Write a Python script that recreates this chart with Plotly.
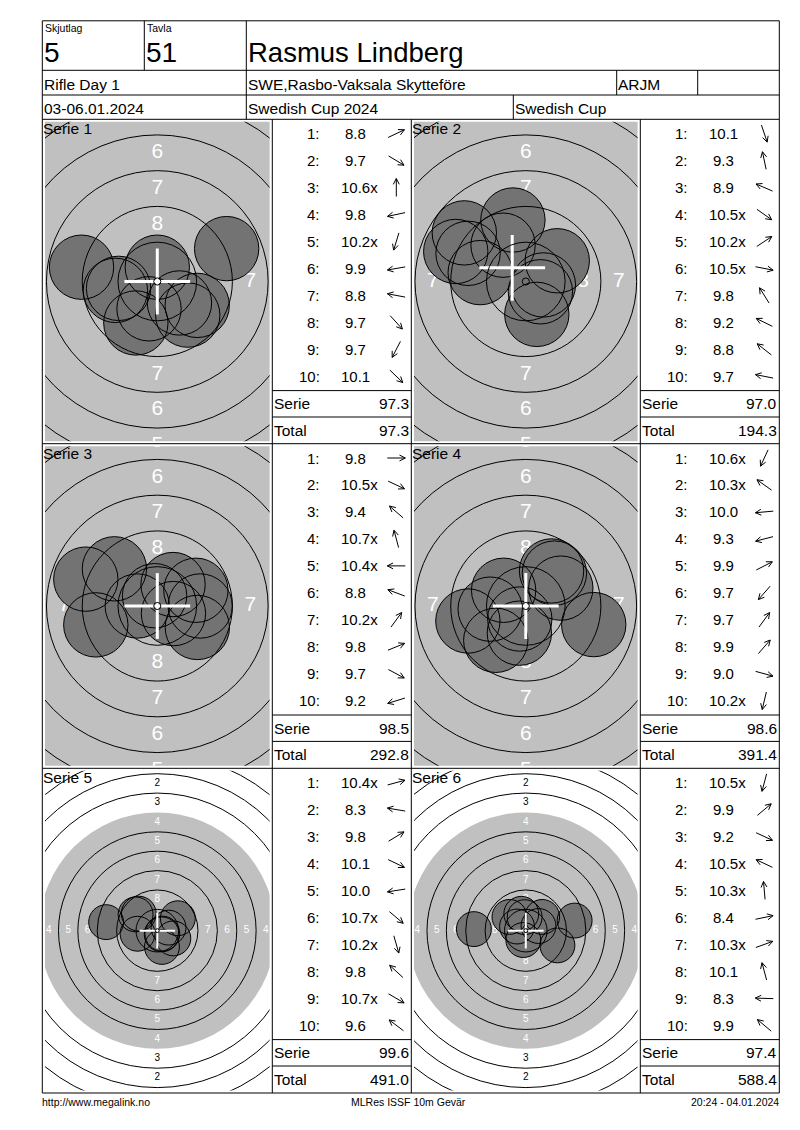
import math
import plotly.graph_objects as go

# header and footer
relay_label, relay = "Skjutlag", "5"
lane_label, lane = "Tavla", "51"
shooter = "Rasmus Lindberg"
event = "Rifle Day 1"
club = "SWE,Rasbo-Vaksala Skytteföre"
shooter_class = "ARJM"
dates = "03-06.01.2024"
competition = "Swedish Cup 2024"
cup = "Swedish Cup"
footer = ["http://www.megalink.no", "MLRes ISSF 10m Gevär", "20:24 - 04.01.2024"]

series = ["Serie 1", "Serie 2", "Serie 3", "Serie 4", "Serie 5", "Serie 6"]

# decimal score of every shot
scores = [
    [8.8, 9.7, 10.6, 9.8, 10.2, 9.9, 8.8, 9.7, 9.7, 10.1],
    [10.1, 9.3, 8.9, 10.5, 10.2, 10.5, 9.8, 9.2, 8.8, 9.7],
    [9.8, 10.5, 9.4, 10.7, 10.4, 8.8, 10.2, 9.8, 9.7, 9.2],
    [10.6, 10.3, 10.0, 9.3, 9.9, 9.7, 9.7, 9.9, 9.0, 10.2],
    [10.4, 8.3, 9.8, 10.1, 10.0, 10.7, 10.2, 9.8, 10.7, 9.6],
    [10.5, 9.9, 9.2, 10.5, 10.3, 8.4, 10.3, 10.1, 8.3, 9.9],
]
# inner ten ("x")
inner_ten = [
    [0, 0, 1, 0, 1, 0, 0, 0, 0, 0],
    [0, 0, 0, 1, 1, 1, 0, 0, 0, 0],
    [0, 1, 0, 1, 1, 0, 1, 0, 0, 0],
    [1, 1, 0, 0, 0, 0, 0, 0, 0, 1],
    [1, 0, 0, 0, 0, 1, 1, 0, 1, 0],
    [1, 0, 0, 1, 1, 0, 1, 0, 0, 0],
]
# shot positions in mm from target centre (x right, y up)
shot_x = [
    [4.85, 2.79, 0.00, -2.93, -0.58, -2.71, -5.3, 2.13, -1.5, 1.55],
    [0.77, -0.9, -4.9, 1.02, 2.2, 1.23, -1.59, -4.04, -4.3, -3.19],
    [3.0, 1.13, -3.0, -0.19, -1.4, -5.0, 1.1, 2.7, 2.8, -4.3],
    [-0.42, -1.55, -2.49, -4.05, 2.45, -2.1, 1.8, 2.0, 4.75, -0.45],
    [1.45, -6.6, 2.65, 2.07, -2.55, 0.57, 0.6, -2.4, 0.65, -2.8],
    [-0.32, 2.11, 4.08, -1.13, -0.15, 6.3, 1.64, -0.58, -6.7, -2.11],
]
shot_y = [
    [2.3, -1.67, 1.00, -0.62, -1.91, -0.48, 1.0, -2.35, -2.9, -1.5],
    [-2.3, 4.3, 2.1, -0.72, 1.45, -0.24, 2.54, 1.97, 3.4, 0.62],
    [0.0, -0.53, 2.6, 0.72, 0.0, 1.88, 1.5, 1.1, -1.5, -1.32],
    [-0.91, 1.1, -0.22, -1.05, 1.25, -2.4, 2.45, 2.3, -1.3, -1.9],
    [0.39, 1.1, 1.6, -1.0, -0.4, -0.48, -2.1, 2.2, -0.38, 2.1],
    [-1.21, 1.77, -1.90, 0.53, 1.74, 1.3, 0.60, 2.17, 0.2, 1.77],
]
serie_sum = [97.3, 97.0, 98.5, 98.6, 99.6, 97.4]
running_total = [97.3, 194.3, 292.8, 391.4, 491.0, 588.4]
# white cross position (mm)
cross_x = [0.0, -0.95, 0.0, 0.0, 0.0, 0.0]
cross_y = [0.0, 0.96, 0.0, 0.0, 0.0, 0.0]

# ISSF 10m air rifle target, ring 1..10 radii (mm)
ring_numbers = [1, 2, 3, 4, 5, 6, 7, 8, 9, 10]
ring_radius = [22.75, 20.25, 17.75, 15.25, 12.75, 10.25, 7.75, 5.25, 2.75, 0.25]
PELLET_MM = 4.5
CROSS_MM = 2.3

W, H = 800, 1130
FONT = "Arial, Liberation Sans, sans-serif"
LEFT, RIGHT, TOP, BOTTOM = 42.3, 779.3, 20.8, 1093.0
ROWS = [119.3, 443.7, 768.3, 1093.0]
TARGET_COLS = [(42.3, 272.3), (411.3, 640.3)]
TABLE_COLS = [(272.3, 411.3), (640.3, 779.3)]
PX_PER_MM = [14.3, 14.3, 14.3, 14.3, 7.75, 7.75]
LABEL_SIZE = [21, 21, 21, 21, 10, 10]
GRAY = "#c0c0c0"
SHOT_FILL = "#737373"

ARIAL_W = {c: 0.556 for c in "0123456789"}
ARIAL_W["."] = 0.278

annotations = []
shapes = []
traces = []


def txt(x, y, s, size, anchor="left", color="black"):
    annotations.append(dict(
        xref="x", yref="y", x=x, y=y, text=s, showarrow=False,
        xanchor=anchor, yanchor="middle", borderpad=0, borderwidth=0,
        font=dict(family=FONT, size=size, color=color)))


def line(x0, y0, x1, y1):
    shapes.append(dict(type="line", xref="x", yref="y", x0=x0, y0=y0, x1=x1, y1=y1,
                       line=dict(color="black", width=1), layer="above"))


arrow_x, arrow_y = [], []


def arrow(cx, cy, ang):
    ux, uy = math.cos(ang), -math.sin(ang)
    tx, ty = cx + 9 * ux, cy + 9 * uy
    arrow_x.extend([cx - 9 * ux, tx, None])
    arrow_y.extend([cy - 9 * uy, ty, None])
    for s in (1, -1):
        a = ang + math.pi + s * math.radians(27)
        arrow_x.extend([tx, tx + 6.5 * math.cos(a), None])
        arrow_y.extend([ty, ty - 6.5 * math.sin(a), None])


axes = {}
for i in range(6):
    r, c = divmod(i, 2)
    k = i + 2
    s = PX_PER_MM[i]
    xa, ya = f"x{k}", f"y{k}"
    x0, x1 = TARGET_COLS[c][0] + 2.7, TARGET_COLS[c][1] - 2.7
    y0, y1 = ROWS[r] + 2.5, ROWS[r + 1] - 2.5
    hw, hh = (x1 - x0) / 2 / s, (y1 - y0) / 2 / s
    axes[f"xaxis{k}"] = dict(domain=[x0 / W, x1 / W], range=[-hw, hw], anchor=ya,
                             visible=False, fixedrange=True)
    axes[f"yaxis{k}"] = dict(domain=[1 - y1 / H, 1 - y0 / H], range=[-hh, hh], anchor=xa,
                             visible=False, fixedrange=True)

    # black (here grey) aiming area = ring 4
    shapes.append(dict(type="circle", xref=xa, yref=ya,
                       x0=-ring_radius[3], x1=ring_radius[3], y0=-ring_radius[3], y1=ring_radius[3],
                       fillcolor=GRAY, line=dict(width=0), layer="below"))

    # ring numbers (only those that show inside the target window)
    half_w = 0.3 * LABEL_SIZE[i] / s
    half_h = 0.36 * LABEL_SIZE[i] / s
    lx, ly, lt, lc = [], [], [], []
    for n, rad in zip(ring_numbers[:8], ring_radius[:8]):
        rl = rad - 1.25
        for px, py in ((0, rl), (0, -rl), (rl, 0), (-rl, 0)):
            if abs(px) - half_w >= hw or abs(py) - half_h >= hh:
                continue
            lx.append(px)
            ly.append(py)
            lt.append(str(n))
            lc.append("white" if rad <= ring_radius[3] else "black")
    traces.append(go.Scatter(x=lx, y=ly, text=lt, mode="text", xaxis=xa, yaxis=ya,
                             textposition="middle center", cliponaxis=True,
                             textfont=dict(family=FONT, size=LABEL_SIZE[i], color=lc),
                             hoverinfo="skip"))

    # shots: fills first, outlines on top
    traces.append(go.Scatter(x=shot_x[i], y=shot_y[i], mode="markers", xaxis=xa, yaxis=ya,
                             marker=dict(size=PELLET_MM * s, color=SHOT_FILL, line=dict(width=0)),
                             hoverinfo="skip"))
    traces.append(go.Scatter(x=shot_x[i], y=shot_y[i], mode="markers", xaxis=xa, yaxis=ya,
                             marker=dict(size=PELLET_MM * s, symbol="circle-open", color="black",
                                         line=dict(width=1)),
                             hoverinfo="skip"))

    # white cross
    cx, cy = cross_x[i], cross_y[i]
    traces.append(go.Scatter(x=[cx - CROSS_MM, cx + CROSS_MM, None, cx, cx],
                             y=[cy, cy, None, cy - CROSS_MM, cy + CROSS_MM],
                             mode="lines", xaxis=xa, yaxis=ya,
                             line=dict(color="white", width=3 if s > 10 else 2),
                             hoverinfo="skip"))

    # ring lines on top of the shots
    for n, rad in zip(ring_numbers, ring_radius):
        if n == 4:
            continue
        shapes.append(dict(type="circle", xref=xa, yref=ya, x0=-rad, x1=rad, y0=-rad, y1=rad,
                           line=dict(color="black", width=1), layer="above"))

    # series label
    txt(TARGET_COLS[c][0] + 0.3, ROWS[r] + 9.3, series[i], 15.5)

    # score table
    tx0, tx1 = TABLE_COLS[c]
    for j in range(10):
        y = ROWS[r] + 14.3 + 26.97 * j
        txt(tx0 + 47.2, y, f"{j + 1}:", 15, anchor="right")
        num = f"{scores[i][j]:.1f}"
        w = sum(ARIAL_W[ch] for ch in num) * 15
        txt(tx0 + 83.4 - w / 2, y, num + ("x" if inner_ten[i][j] else ""), 15)
        arrow(tx0 + 124, y, math.atan2(shot_y[i][j], shot_x[i][j]))
    line(tx0, ROWS[r] + 271.3, tx1, ROWS[r] + 271.3)
    line(tx0, ROWS[r] + 297.7, tx1, ROWS[r] + 297.7)
    txt(tx0 + 1.5, ROWS[r] + 284.3, "Serie", 15.5)
    txt(tx1 - 2.5, ROWS[r] + 284.3, f"{serie_sum[i]:.1f}", 15.5, anchor="right")
    txt(tx0 + 1.5, ROWS[r] + 311, "Total", 15.5)
    txt(tx1 - 2.5, ROWS[r] + 311, f"{running_total[i]:.1f}", 15.5, anchor="right")

traces.append(go.Scatter(x=arrow_x, y=arrow_y, mode="lines", xaxis="x", yaxis="y",
                         line=dict(color="black", width=1), hoverinfo="skip"))

# header
txt(44.5, 28, relay_label, 10.5)
txt(146.5, 28, lane_label, 10.5)
txt(43.5, 52, relay, 28)
txt(145.5, 52, lane, 28)
txt(247.5, 52, shooter, 27.5)
txt(44, 84.5, event, 15.5)
txt(247.5, 84.5, club, 15.5)
txt(618, 84.5, shooter_class, 15.5)
txt(44, 108.5, dates, 15.5)
txt(247.5, 108.5, competition, 15.5)
txt(514.5, 108.5, cup, 15.5)

# footer
txt(42, 1102, footer[0], 10.5)
txt(408, 1102, footer[1], 10.5, anchor="center")
txt(RIGHT, 1102, footer[2], 10.5, anchor="right")

# frame and grid
shapes.append(dict(type="rect", xref="x", yref="y", x0=LEFT, x1=RIGHT, y0=TOP, y1=BOTTOM,
                   line=dict(color="black", width=1), layer="above"))
for y in (70.3, 95.0, 119.3, ROWS[1], ROWS[2]):
    line(LEFT, y, RIGHT, y)
line(144.3, TOP, 144.3, 70.3)
line(246.3, TOP, 246.3, 119.3)
line(616.7, 70.3, 616.7, 95.0)
line(697.7, 70.3, 697.7, 95.0)
line(513.3, 95.0, 513.3, 119.3)
for x in (272.3, 411.3, 640.3):
    line(x, 119.3, x, BOTTOM)

fig = go.Figure(data=traces)
fig.update_layout(
    width=W, height=H, margin=dict(l=0, r=0, t=0, b=0),
    paper_bgcolor="white", plot_bgcolor="white",
    showlegend=False, hovermode=False,
    xaxis=dict(range=[0, W], domain=[0, 1], visible=False, fixedrange=True),
    yaxis=dict(range=[H, 0], domain=[0, 1], visible=False, fixedrange=True),
    annotations=annotations, shapes=shapes,
    **axes,
)

fig.write_html("out.html", config={"displayModeBar": False},
               post_script="document.body.style.margin='0';document.body.style.overflow='hidden';")
